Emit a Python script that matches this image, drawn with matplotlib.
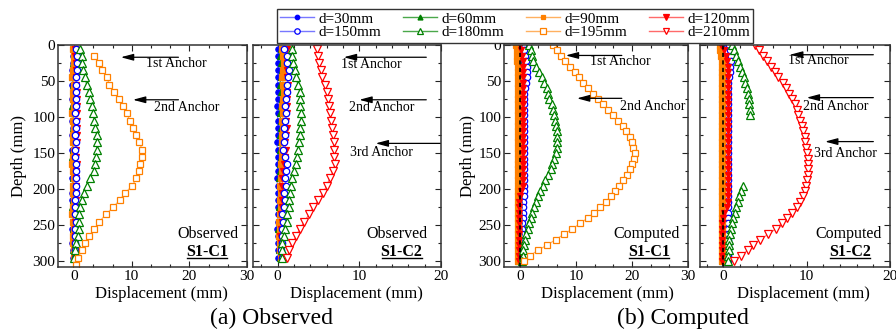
import numpy as np
import matplotlib
matplotlib.use("Agg")
import matplotlib.pyplot as plt
from matplotlib.ticker import MultipleLocator
from matplotlib.lines import Line2D

plt.rcParams["font.family"] = ["Liberation Serif", "DejaVu Serif"]

# ---------------------------------------------------------------- data
# depth of the measuring points (mm)
obs_depth = [5, 15, 25, 35, 45, 55, 65, 75, 85, 95, 105, 115, 125, 135, 145,
             155, 165, 175, 185, 195, 205, 215, 225, 235, 245, 255, 265, 275, 285, 295]
obs_depth_195 = [15, 25, 35, 45, 55, 65, 75, 85, 95, 105, 115, 125, 135, 145, 155,
                 165, 175, 185, 195, 205, 215, 225, 235, 245, 255, 265, 275, 285, 295, 305]
cmp_depth = [0, 7.5, 15, 22.5, 30, 37.5, 45, 52.5, 60, 67.5, 75, 82.5, 90, 97.5,
             105, 112.5, 120, 127.5, 135, 142.5, 150, 157.5, 165, 172.5, 180, 187.5,
             195, 202.5, 210, 217.5, 225, 232.5, 240, 247.5, 255, 262.5, 270, 277.5,
             285, 292.5, 300]

# Observed, section S1-C1 (displacement, mm)
obs_c1 = {
    30: [-0.1, -0.2, -0.2, -0.3, -0.2, -0.3, -0.2, -0.3, -0.2, -0.3, -0.3, -0.2, -0.3, -0.2, -0.3,
         -0.2, -0.3, -0.2, -0.3, -0.2, -0.3, -0.3, -0.2, -0.3, -0.2, -0.3, -0.2, -0.3, -0.2, -0.2],
    60: [0.0, -0.1, -0.2, -0.1, -0.3, -0.2, -0.1, -0.2, -0.3, -0.2, -0.1, -0.2, -0.2, -0.1, -0.2,
         -0.3, -0.2, -0.1, -0.2, -0.2, -0.1, -0.2, -0.3, -0.2, -0.1, -0.2, -0.2, -0.1, -0.2, -0.1],
    90: [-0.2, -0.1, 0.0, -0.2, -0.3, -0.1, -0.2, -0.2, -0.1, -0.3, -0.2, -0.1, -0.2, -0.2, -0.1,
         -0.2, -0.3, -0.2, -0.1, -0.2, -0.2, -0.1, -0.2, -0.3, -0.2, -0.1, -0.2, -0.2, -0.1, -0.1],
    120: [0.2, 0.2, 0.3, 0.3, 0.3, 0.4, 0.45, 0.5, 0.5, 0.5, 0.45, 0.45, 0.5, 0.45, 0.4,
          0.4, 0.45, 0.4, 0.35, 0.3, 0.3, 0.25, 0.3, 0.25, 0.2, 0.2, 0.2, 0.15, 0.2, 0.15],
    150: [0.4, 0.5, 0.5, 0.5, 0.4, 0.3, 0.3, 0.4, 0.3, 0.2, 0.3, 0.3, 0.2, 0.3, 0.2,
          0.2, 0.3, 0.4, 0.3, 0.4, 0.3, 0.2, 0.1, 0.2, 0.3, 0.2, 0.1, 0.2, 0.1, 0.2],
    180: [1.05, 1.3, 1.45, 1.6, 1.9, 2.15, 2.5, 2.7, 3.1, 3.3, 3.5, 3.7, 3.9, 3.9, 3.9,
          3.8, 3.6, 3.4, 2.7, 2.2, 1.7, 1.3, 1.0, 0.9, 0.9, 0.8, 0.6, 0.3, 0.2, 0.0],
    195: [3.5, 4.4, 4.9, 5.7, 6.1, 6.9, 7.7, 8.4, 9.1, 9.7, 10.3, 10.8, 11.3, 11.8, 11.7,
          11.5, 11.2, 10.8, 10.1, 8.9, 7.9, 6.8, 5.5, 4.4, 3.5, 2.6, 1.9, 1.3, 0.7, 0.4],
}

# Observed, section S1-C2
obs_c2 = {
    30: [0.1, 0.1, 0.0, 0.1, 0.0, 0.0, 0.1, 0.0, -0.1, 0.0, 0.0, 0.1, 0.0, -0.1, 0.0,
         0.1, 0.0, 0.0, -0.1, 0.0, 0.1, 0.0, 0.0, 0.1, 0.0, -0.1, 0.0, 0.0, 0.1, 0.1],
    60: [0.4, 0.3, 0.4, 0.5, 0.4, 0.3, 0.4, 0.5, 0.4, 0.3, 0.4, 0.4, 0.3, 0.4, 0.3,
         0.4, 0.3, 0.3, 0.2, 0.3, 0.4, 0.3, 0.2, 0.3, 0.2, 0.1, 0.2, 0.3, 0.2, 0.3],
    90: [0.6, 0.7, 0.8, 0.7, 0.6, 0.7, 0.8, 0.7, 0.6, 0.7, 0.6, 0.7, 0.6, 0.5, 0.6,
         0.5, 0.4, 0.5, 0.4, 0.3, 0.4, 0.3, 0.4, 0.3, 0.2, 0.3, 0.2, 0.3, 0.3, 0.4],
    120: [1.2, 1.3, 1.2, 1.1, 1.2, 1.3, 1.2, 1.1, 1.2, 1.1, 1.0, 1.1, 1.0, 0.9, 1.0,
          0.9, 0.8, 0.7, 0.6, 0.6, 0.5, 0.6, 0.5, 0.4, 0.5, 0.4, 0.3, 0.4, 0.4, 0.5],
    150: [0.8, 1.1, 1.2, 1.4, 1.3, 1.2, 1.1, 1.0, 0.9, 1.0, 0.9, 0.8, 0.9, 0.8, 0.7,
          0.9, 1.2, 1.0, 0.9, 1.0, 0.8, 0.9, 0.8, 0.6, 0.7, 0.5, 0.6, 0.5, 0.4, 0.5],
    180: [1.8, 1.8, 1.9, 2.1, 2.2, 2.5, 2.7, 2.8, 2.8, 2.9, 2.9, 2.8, 2.7, 2.6, 2.5,
          2.4, 2.2, 2.0, 1.8, 1.6, 1.5, 1.4, 1.35, 1.2, 1.1, 0.9, 0.8, 0.6, 0.5, 0.5],
    210: [4.8, 4.95, 5.1, 5.3, 5.5, 5.8, 6.05, 6.2, 6.35, 6.45, 6.55, 6.65, 6.75, 6.85, 6.9,
          6.95, 7.0, 6.8, 6.4, 6.0, 5.6, 5.0, 4.4, 3.85, 3.3, 2.7, 2.3, 1.8, 1.4, 1.2],
}

nan = np.nan
# Computed, section S1-C1
cmp_c1 = {
    30: [-0.2, -0.2, -0.15, -0.15, -0.1, -0.1, -0.1, -0.1, -0.1, -0.1, -0.05, -0.05, -0.05, -0.05,
         -0.05, -0.05, -0.05, -0.05, -0.05, -0.05, -0.05, -0.05, -0.05, -0.05, -0.05, -0.05,
         -0.05, -0.05, -0.05, -0.05, -0.05, -0.05, -0.05, -0.05, -0.05, -0.05, -0.05, -0.05,
         -0.05, -0.05, -0.05],
    60: [-0.4, -0.35, -0.3, -0.3, -0.3, -0.25, -0.25, -0.25, -0.25, -0.25, -0.25, -0.25, -0.25,
         -0.25, -0.25, -0.25, -0.25, -0.25, -0.25, -0.25, -0.25, -0.25, -0.25, -0.25, -0.25,
         -0.25, -0.25, -0.25, -0.25, -0.25, -0.25, -0.25, -0.25, -0.25, -0.25, -0.25, -0.25,
         -0.25, -0.25, -0.25, -0.25],
    90: [-0.7, -0.55, -0.45, -0.4, -0.35, -0.35, -0.3, -0.3, -0.3, -0.3, -0.3, -0.3, -0.3, -0.3,
         -0.3, -0.3, -0.3, -0.3, -0.3, -0.3, -0.3, -0.3, -0.3, -0.3, -0.3, -0.3, -0.3, -0.3,
         -0.3, -0.3, -0.3, -0.3, -0.3, -0.3, -0.3, -0.3, -0.3, -0.3, -0.3, -0.3, -0.3],
    120: [0.0, 0.25, 0.4, 0.5, 0.55, 0.6, 0.65, 0.65, 0.65, 0.65, 0.65, 0.65, 0.65, 0.65,
          0.65, 0.65, 0.65, 0.65, 0.65, 0.65, 0.65, 0.65, 0.65, 0.65, 0.65, 0.6,
          0.5, 0.3, 0.1, -0.1, -0.2, -0.2, -0.2, -0.2, -0.2, -0.2, -0.2, -0.2, -0.2, -0.2, -0.2],
    150: [0.5, 0.85, 1.0, 1.15, 1.25, 1.3, 1.3, 1.1, 0.9, 0.8, 0.75, 0.7, 0.7, 0.7,
          0.7, 0.7, 0.7, 0.7, 0.7, 0.7, 0.7, 0.7, 0.7, 0.7, 0.7,
          0.7, 0.7, 0.7, 0.7, 0.65, 0.6, 0.55, 0.5, 0.45, 0.4, 0.35, 0.3, 0.3, 0.3, 0.3, 0.3],
    180: [1.6, 2.0, 2.2, 2.45, 2.9, 3.4, 3.9, 4.4, 4.8, 5.05, 5.3, 5.7, 5.95, 6.1,
          6.3, 6.5, 6.65, 6.7, 6.7, 6.7, 6.55, 6.2, 5.8, 5.5, 5.0, 4.5,
          4.1, 3.7, 3.3, 2.9, 2.55, 2.25, 1.95, 1.7, 1.4, 1.15, 0.9, 0.7, 0.6, 0.5, 0.45],
    195: [6.0, 6.7, 7.4, 8.1, 8.9, 9.8, 10.6, 11.3, 12.2, 13.0, 13.9, 14.9, 15.8, 16.7,
          17.5, 18.4, 19.0, 19.6, 19.95, 20.2, 20.5, 20.45, 20.1, 19.7, 19.1, 18.4,
          17.7, 17.0, 16.2, 15.4, 14.4, 13.3, 12.1, 10.8, 9.4, 7.9, 6.4, 4.9, 3.2, 1.8, 0.8],
}

# Computed, section S1-C2
cmp_c2 = {
    30: [-0.2, -0.2, -0.15, -0.15, -0.15, -0.15, -0.15, -0.15, -0.15, -0.15, -0.15, -0.15,
         -0.15, -0.15, -0.15, -0.15, -0.15, -0.15, -0.15, -0.15, -0.15, -0.15, -0.15, -0.15,
         -0.15, -0.15, -0.15, -0.15, -0.15, -0.15, -0.15, -0.15, -0.15, -0.15, -0.15, -0.15,
         -0.15, -0.15, -0.15, -0.15, -0.15],
    60: [-0.3, -0.25, -0.2, -0.2, -0.15, -0.15, -0.15, -0.15, -0.15, -0.15, -0.15, -0.15,
         -0.15, -0.15, -0.15, -0.15, -0.15, -0.15, -0.15, -0.15, -0.15, -0.15, -0.15, -0.15,
         -0.15, -0.15, -0.15, -0.15, -0.15, -0.15, -0.15, -0.15, -0.15, -0.15, -0.15, -0.15,
         -0.15, -0.15, -0.15, -0.15, -0.15],
    90: [-0.45, -0.35, -0.25, -0.2, -0.15, -0.15, -0.15, -0.15, -0.15, -0.15, -0.15, -0.15,
         -0.15, -0.15, -0.15, -0.15, -0.15, -0.15, -0.15, -0.15, -0.15, -0.15, -0.15, -0.15,
         -0.15, -0.15, -0.15, -0.15, -0.15, -0.15, -0.15, -0.15, -0.15, -0.15, -0.15, -0.15,
         -0.15, -0.15, -0.15, -0.15, -0.15],
    120: [-0.3, 0.1, 0.3, 0.45, 0.55, 0.6, 0.6, 0.6, 0.6, 0.6, 0.6, 0.6, 0.6, 0.6,
          0.6, 0.6, 0.6, 0.6, 0.6, 0.6, 0.6, 0.6, 0.6, 0.6, 0.6, 0.6,
          0.6, 0.6, 0.6, 0.55, 0.4, 0.1, -0.1, -0.2, -0.2, -0.2, -0.2, -0.2, -0.2, -0.2, -0.2],
    150: [0.65, 0.85, 0.9, 0.9, 0.85, 0.75, 0.65, 0.6, 0.6, 0.6, 0.6, 0.6, 0.6, 0.6,
          0.6, 0.6, 0.6, 0.6, 0.6, 0.6, 0.6, 0.6, 0.6, 0.6, 0.6, 0.6,
          0.6, 0.6, 0.6, 0.6, 0.55, 0.55, 0.55, 0.55, 0.55, 0.55, 0.55, 0.55, 0.55, 0.5, 0.5],
    180: [1.0, 1.3, 1.55, 1.8, 2.0, 2.2, 2.45, 2.6, 2.85, 3.0, 3.05, 3.1, 3.15, 3.15,
          nan, nan, nan, nan, nan, nan, nan, nan, nan, nan, nan, nan,
          2.4, 2.1, 1.9, 1.7, 1.55, 1.4, 1.2, 1.05, 0.9, 0.8, 0.72, 0.66, 0.62, 0.6, 0.6],
    210: [3.8, 4.3, 4.8, 5.25, 5.7, 6.2, 6.6, 7.1, 7.5, 7.9, 8.25, 8.6, 8.8, 9.0,
          9.2, 9.4, 9.6, 9.75, 9.85, 9.95, 10.05, 10.1, 10.15, 10.15, 10.1, 10.05,
          9.95, 9.8, 9.55, 9.2, 8.8, 8.2, 7.6, 7.0, 6.3, 5.4, 4.4, 3.6, 2.9, 2.1, 1.3],
}

series_order = [30, 60, 90, 120, 150, 180, 195, 210]

# ---------------------------------------------------------------- styles
C_BLUE, C_GREEN, C_ORANGE, C_RED = "#0000ff", "#008000", "#ff8000", "#ff0000"
L_BLUE, L_GREEN, L_ORANGE, L_RED = "#7878ff", "#4aa84a", "#ffb060", "#ff6a6a"
style = {
    30:  dict(marker="o", color=C_BLUE, lc=L_BLUE, fill=True, ms=3.8),
    60:  dict(marker="^", color=C_GREEN, lc=L_GREEN, fill=True, ms=4.2),
    90:  dict(marker="s", color=C_ORANGE, lc=L_ORANGE, fill=True, ms=3.8),
    120: dict(marker="v", color=C_RED, lc=L_RED, fill=True, ms=4.4),
    150: dict(marker="o", color=C_BLUE, lc=L_BLUE, fill=False, ms=4.6),
    180: dict(marker="^", color=C_GREEN, lc=L_GREEN, fill=False, ms=5.2),
    195: dict(marker="s", color=C_ORANGE, lc=L_ORANGE, fill=False, ms=4.8),
    210: dict(marker="v", color=C_RED, lc=L_RED, fill=False, ms=5.2),
}


def draw_series(ax, key, x, y, zorder=2):
    s = style[key]
    ax.plot(x, y, color=s["lc"], lw=0.8, marker=s["marker"], ms=s["ms"],
            mec=s["color"], mfc=s["color"] if s["fill"] else "white", mew=0.9,
            zorder=zorder)


W, H = 896, 334
fig = plt.figure(figsize=(W / 100, H / 100), dpi=100)


def add_axes(x0, x1, y0=45, y1=267):
    return fig.add_axes([x0 / W, 1 - y1 / H, (x1 - x0) / W, (y1 - y0) / H])


ax1 = add_axes(58, 247)
ax2 = add_axes(253, 441)
ax3 = add_axes(504, 688)
ax4 = add_axes(700, 890)

panels = [
    (ax1, obs_c1, (-2.8, 30), 10 / 3, True, 9, "Observed", "S1-C1"),
    (ax2, obs_c2, (-3, 20), 2, False, 9, "Observed", "S1-C2"),
    (ax3, cmp_c1, (-2.8, 30), 10 / 3, True, 11, "Computed", "S1-C1"),
    (ax4, cmp_c2, (-2.8, 20), 2, False, 8.5, "Computed", "S1-C2"),
]

for ax, data, xlim, xminor, ylab, xshift, tag, sec in panels:
    computed = data is cmp_c1 or data is cmp_c2
    for key in series_order:
        if key not in data:
            continue
        if data is obs_c1 and key == 195:
            depth = obs_depth_195
        elif computed:
            depth = cmp_depth
        else:
            depth = obs_depth
        z = 2
        if computed and key == 150:
            z = 1.9
        draw_series(ax, key, data[key], depth, zorder=z)
    if computed:
        ax.axvline(0, color="k", ls=(0, (2.5, 2)), lw=1.2, zorder=2.1)

    ax.set_xlim(*xlim)
    ax.set_ylim(308, 0)
    ax.xaxis.set_major_locator(MultipleLocator(10))
    ax.xaxis.set_minor_locator(MultipleLocator(xminor))
    ax.yaxis.set_major_locator(MultipleLocator(50))
    ax.yaxis.set_minor_locator(MultipleLocator(25))
    ax.tick_params(which="both", direction="in", top=True, right=True,
                   labelsize=11, width=0.8, colors="#222222", labelcolor="black")
    ax.tick_params(which="major", length=4.5, pad=2)
    ax.tick_params(which="minor", length=2.5)
    for sp in ax.spines.values():
        sp.set_linewidth(1.1)
        sp.set_color("#333333")
    if not ylab:
        ax.set_yticklabels([])
    else:
        ax.set_ylabel("Depth (mm)", fontsize=12)
    ax.set_xlabel("Displacement (mm)", fontsize=12)
    bw = ax.get_position().width * W
    ax.xaxis.set_label_coords(0.5 + xshift / bw, -0.085)

    ax.text(0.955 if ax is not ax2 else 0.93, 0.15, tag, transform=ax.transAxes,
            ha="right", va="center", fontsize=11.5)
    t = ax.text(0.79, 0.066, sec, transform=ax.transAxes, ha="center",
                va="center", fontsize=11.5, fontweight="bold")
    ax._section_label = t

ax1.yaxis.set_label_coords(-0.165, 0.5)
ax3.yaxis.set_label_coords(-0.15, 0.5)

# anchor positions and their labels
arrow_kw = dict(arrowstyle="-|>,head_length=0.75,head_width=0.2", color="k",
                lw=0.9, mutation_scale=10, shrinkA=0, shrinkB=0)
anchors = {
    ax1: [("1st Anchor", 17, 18.1, 8.1, 17.7, 26), ("2nd Anchor", 76, 18.1, 10.2, 19.6, 87)],
    ax2: [("1st Anchor", 17, 18.2, 8.1, 11.5, 27), ("2nd Anchor", 76, 18.2, 10.0, 12.7, 87),
          ("3rd Anchor", 136.5, 19.9, 12.0, 12.7, 149.5)],
    ax3: [("1st Anchor", 14.5, 18.2, 8.2, 17.9, 23), ("2nd Anchor", 74, 18.2, 10.2, 23.7, 86)],
    ax4: [("1st Anchor", 13.5, 18.0, 8.0, 11.4, 22), ("2nd Anchor", 73, 18.0, 10.0, 13.5, 86),
          ("3rd Anchor", 134, 18.0, 12.2, 14.6, 150)],
}
for ax, items in anchors.items():
    for label, yd, x_tail, x_head, tx, ty in items:
        ax.annotate("", xy=(x_head, yd), xytext=(x_tail, yd), arrowprops=arrow_kw,
                    annotation_clip=False, zorder=5)
        ax.text(tx, ty, label, ha="center", va="center", fontsize=10, zorder=5)

# legend
handles, labels = [], []
for key in [30, 150, 60, 180, 90, 195, 120, 210]:
    s = style[key]
    handles.append(Line2D([], [], color=s["lc"], lw=1.0, marker=s["marker"],
                          ms=s["ms"] * 0.85, mec=s["color"],
                          mfc=s["color"] if s["fill"] else "white", mew=0.9))
    labels.append(f"d={key}mm")
leg = fig.legend(handles, labels, ncol=4, loc="upper left",
                 bbox_to_anchor=(277 / W, 1 - 9 / H), fontsize=11,
                 frameon=True, fancybox=False, edgecolor="#333333", framealpha=1,
                 handlelength=2.2, handletextpad=0.3, columnspacing=1.45,
                 labelspacing=0.0, borderpad=0.2, borderaxespad=0)
leg.get_frame().set_linewidth(1.0)
leg.set_zorder(10)

# captions
fig.text(271 / W, 1 - 318 / H, "(a) Observed", ha="center", va="center", fontsize=17)
fig.text(683 / W, 1 - 318 / H, "(b) Computed", ha="center", va="center", fontsize=17)

# underline the section names
fig.canvas.draw()
renderer = fig.canvas.get_renderer()
for ax in (ax1, ax2, ax3, ax4):
    t = ax._section_label
    bb = t.get_window_extent(renderer).transformed(ax.transAxes.inverted())
    ax.add_line(Line2D([bb.x0 + 0.005, bb.x1 - 0.005], [bb.y0 + 0.012, bb.y0 + 0.012],
                       transform=ax.transAxes, color="k", lw=1.0, clip_on=False))

fig.savefig("out.png", dpi=100)
